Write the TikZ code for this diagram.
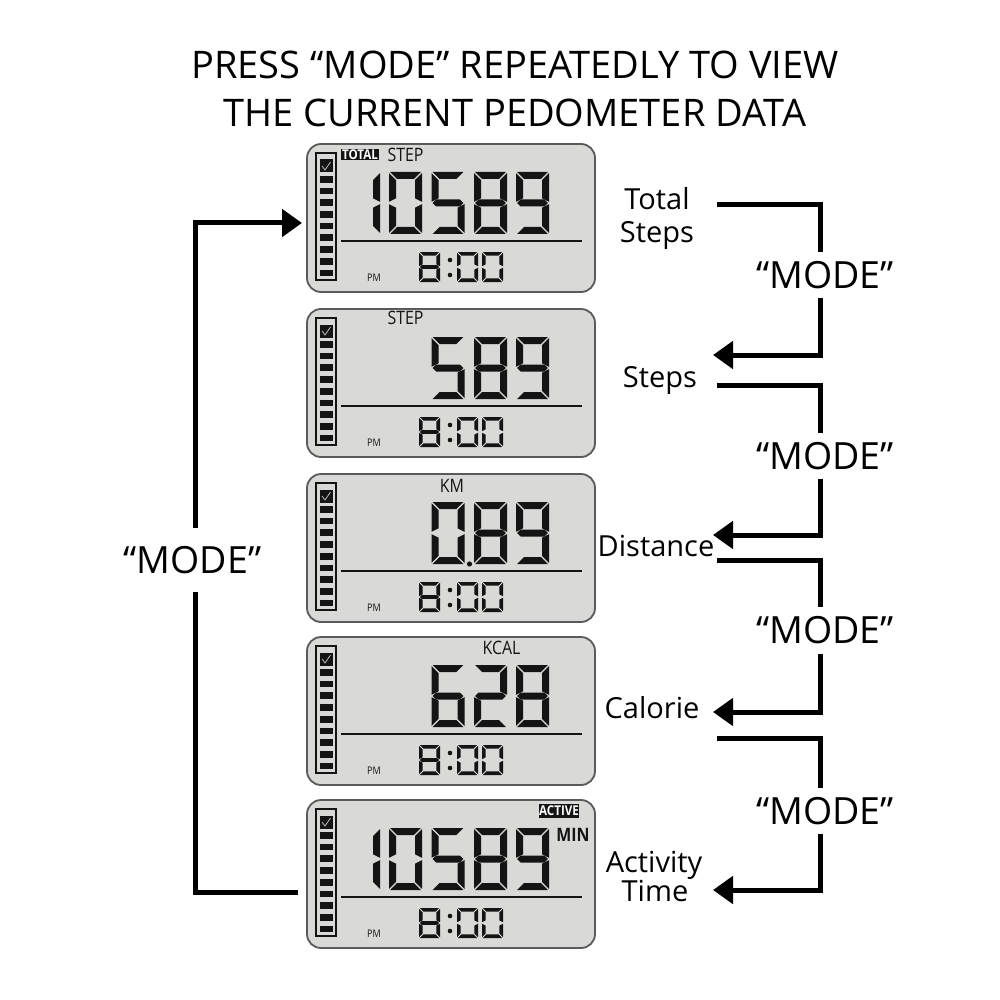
\documentclass[tikz,border=0pt]{standalone}
\usepackage{fontspec}
\setmainfont{Open Sans}
\newfontfamily\lcdfont[FakeStretch=0.86]{Open Sans}
\usetikzlibrary{arrows.meta}
\definecolor{lcdbg}{HTML}{D9D9D7}
\definecolor{lcdedge}{HTML}{5A5A5A}
\definecolor{lcdink}{HTML}{141414}
\definecolor{checkc}{HTML}{BBBBBB}
\tikzset{
  panel/.style={draw=lcdedge, line width=1.8pt, fill=lcdbg, rounded corners=14pt,
    minimum width=288pt, minimum height=148pt, inner sep=0pt, outer sep=0pt, anchor=north west},
  conn/.style={line width=5pt, draw=black},
  arr/.style={-{Triangle[length=20pt,width=27pt]}},
  modelbl/.style={font=\fontsize{37.5}{40}\selectfont, inner sep=0pt, text height=26pt,
    text depth=0pt, minimum height=46pt},
  sidelbl/.style={font=\fontsize{29}{32}\selectfont, inner sep=0pt, anchor=base},
  titlelbl/.style={font=\fontsize{38}{44}\selectfont, inner sep=0pt, anchor=base},
  unitlbl/.style={font=\lcdfont\fontsize{18.5}{20}\selectfont, inner sep=0pt, text=lcdink, anchor=base},
  tagbox/.style={fill=lcdink, text=white, font=\lcdfont\bfseries\fontsize{13.5}{14}\selectfont, inner sep=0pt},
  pmlbl/.style={font=\lcdfont\fontsize{10.5}{11}\selectfont, inner sep=0pt, text=lcdink},
}
\def\sgW{33}\def\sgH{62}\def\sgT{7}\def\sgG{1.2}
\def\Dzero{a,b,c,d,e,f}
\def\Done{b,c}
\def\Dtwo{a,b,g,e,d}
\def\Dfive{a,f,g,c,d}
\def\Dsix{a,f,g,e,c,d}
\def\Deight{a,b,c,d,e,f,g}
\def\Dnine{a,b,c,d,f,g}
\newcommand\sgseg[1]{%
 \if#1a\fill[lcdink] (\sgG,0) -- (\sgW-\sgG,0) -- (\sgW-\sgG-\sgT,\sgT) -- (\sgG+\sgT,\sgT) -- cycle;\fi
 \if#1d\fill[lcdink] (\sgG,\sgH) -- (\sgW-\sgG,\sgH) -- (\sgW-\sgG-\sgT,\sgH-\sgT) -- (\sgG+\sgT,\sgH-\sgT) -- cycle;\fi
 \if#1f\fill[lcdink] (0,\sgG) -- (\sgT,\sgG+\sgT) -- (\sgT,\sgH/2-\sgG-\sgT/2) -- (0,\sgH/2-\sgG) -- cycle;\fi
 \if#1e\fill[lcdink] (0,\sgH/2+\sgG) -- (\sgT,\sgH/2+\sgG+\sgT/2) -- (\sgT,\sgH-\sgG-\sgT) -- (0,\sgH-\sgG) -- cycle;\fi
 \if#1b\fill[lcdink] (\sgW,\sgG) -- (\sgW-\sgT,\sgG+\sgT) -- (\sgW-\sgT,\sgH/2-\sgG-\sgT/2) -- (\sgW,\sgH/2-\sgG) -- cycle;\fi
 \if#1c\fill[lcdink] (\sgW,\sgH/2+\sgG) -- (\sgW-\sgT,\sgH/2+\sgG+\sgT/2) -- (\sgW-\sgT,\sgH-\sgG-\sgT) -- (\sgW,\sgH-\sgG) -- cycle;\fi
 \if#1g\fill[lcdink] (\sgG,\sgH/2) -- (\sgG+\sgT/2,\sgH/2-\sgT/2) -- (\sgW-\sgG-\sgT/2,\sgH/2-\sgT/2) -- (\sgW-\sgG,\sgH/2) -- (\sgW-\sgG-\sgT/2,\sgH/2+\sgT/2) -- (\sgG+\sgT/2,\sgH/2+\sgT/2) -- cycle;\fi
}
\newcommand\lcddigit[3]{\begin{scope}[shift={(#1,#2)}]\foreach \s in #3 {\sgseg\s}\end{scope}}
\newcommand\lcdpanel[3]{%
 \node[panel] (#1) at (307,#2) {};
 \begin{scope}[shift={(307,#2)}]
  \draw[lcdink, line width=1.3pt] (9,9) rectangle (29,136);
  \fill[lcdink] (12.5,15.5) rectangle (25.5,28.5);
  \draw[checkc, line width=0.8pt] (15,22) -- (18,26) -- (23.5,18);
  \foreach \i in {0,...,8} {\fill[lcdink] (12.5,32+11.7*\i) rectangle (25.5,38.7+11.7*\i);}
  \draw[lcdink, line width=1.2pt] (34,97) -- (275,97);
  \node[pmlbl] (#1pm) at (67,134) {PM};
  #3
  \def\sgW{21}\def\sgH{30}\def\sgT{3.6}\def\sgG{0.8}
  \lcddigit{112}{108}{\Deight}
  \lcddigit{150}{108}{\Dzero}
  \lcddigit{175}{108}{\Dzero}
  \fill[lcdink] (143,116) circle (2.3pt) (143,131) circle (2.3pt);
 \end{scope}}
\begin{document}
\begin{tikzpicture}[x=1pt,y=-1pt]
\useasboundingbox (0,0) rectangle (1000,1000);
\fill[white] (0,0) rectangle (1000,1000);
\node[titlelbl] (t1) at (515,78.5) {PRESS “MODE” REPEATEDLY TO VIEW};
\node[titlelbl] (t2) at (515,126.5) {THE CURRENT PEDOMETER DATA};

\lcdpanel{p1}{144}{%
 \node[tagbox, minimum width=38pt, minimum height=11pt] (p1tag) at (53,10.5) {TOTAL};
 \node[unitlbl] (p1unit) at (98.5,18) {STEP};
 \lcddigit{40}{28}{\Done}\lcddigit{82}{28}{\Dzero}\lcddigit{124.5}{28}{\Dfive}\lcddigit{167}{28}{\Deight}\lcddigit{209}{28}{\Dnine}}
\lcdpanel{p2}{309}{%
 \node[unitlbl] (p2unit) at (98.5,15.5) {STEP};
 \lcddigit{124.5}{28}{\Dfive}\lcddigit{167}{28}{\Deight}\lcddigit{209}{28}{\Dnine}}
\lcdpanel{p3}{474}{%
 \node[unitlbl] (p3unit) at (145,18.7) {KM};
 \lcddigit{124.5}{28}{\Dzero}\lcddigit{167}{28}{\Deight}\lcddigit{209}{28}{\Dnine}
 \fill[lcdink] (162.5,90) circle (2.6pt);}
\lcdpanel{p4}{637}{%
 \node[unitlbl] (p4unit) at (194.5,17) {KCAL};
 \lcddigit{124.5}{28}{\Dsix}\lcddigit{167}{28}{\Dtwo}\lcddigit{209}{28}{\Deight}}
\lcdpanel{p5}{800}{%
 \node[tagbox, minimum width=40pt, minimum height=14pt] (p5tag) at (252,11) {ACTIVE};
 \node[unitlbl, font=\lcdfont\bfseries\fontsize{18.5}{20}\selectfont] (p5unit) at (266,41.5) {MIN};
 \lcddigit{40}{28}{\Done}\lcddigit{82}{28}{\Dzero}\lcddigit{124.5}{28}{\Dfive}\lcddigit{167}{28}{\Deight}\lcddigit{209}{28}{\Dnine}}

% right labels
\node[sidelbl] (lts1) at (657,210) {Total};
\node[sidelbl] (lts2) at (657,242) {Steps};
\node[sidelbl] (lst) at (660,387) {Steps};
\node[sidelbl] (ldi) at (656,556) {Distance};
\node[sidelbl] (lca) at (652,718) {Calorie};
\node[sidelbl] (lat1) at (654,872) {Activity};
\node[sidelbl] (lat2) at (655,901) {Time};

% mode labels
\node[modelbl] (m1) at (825,275) {“MODE”};
\node[modelbl] (m2) at (825,456) {“MODE”};
\node[modelbl] (m3) at (825,630.5) {“MODE”};
\node[modelbl] (m4) at (825,811) {“MODE”};
\node[modelbl, minimum height=64pt] (lm) at (192.5,560) {“MODE”};

\coordinate (rv) at (820,0);
\coordinate (lv) at (195.5,0);
\coordinate (s1) at (717,205); \coordinate (e1) at (713,355);
\coordinate (s2) at (717,385); \coordinate (e2) at (713,535);
\coordinate (s3) at (717,560); \coordinate (e3) at (713,712);
\coordinate (s4) at (717,738); \coordinate (e4) at (713,890);
\coordinate (L1) at (298,892.5); \coordinate (L2) at (302,223);

\draw[conn] (s1) -| (m1.north -| rv);
\draw[conn,arr] (m1.south -| rv) |- (e1);
\draw[conn] (s2) -| (m2.north -| rv);
\draw[conn,arr] (m2.south -| rv) |- (e2);
\draw[conn] (s3) -| (m3.north -| rv);
\draw[conn,arr] (m3.south -| rv) |- (e3);
\draw[conn] (s4) -| (m4.north -| rv);
\draw[conn,arr] (m4.south -| rv) |- (e4);

\draw[conn] (L1) -| (lm.south -| lv);
\draw[conn,arr] (lm.north -| lv) |- (L2);
\end{tikzpicture}
\end{document}
